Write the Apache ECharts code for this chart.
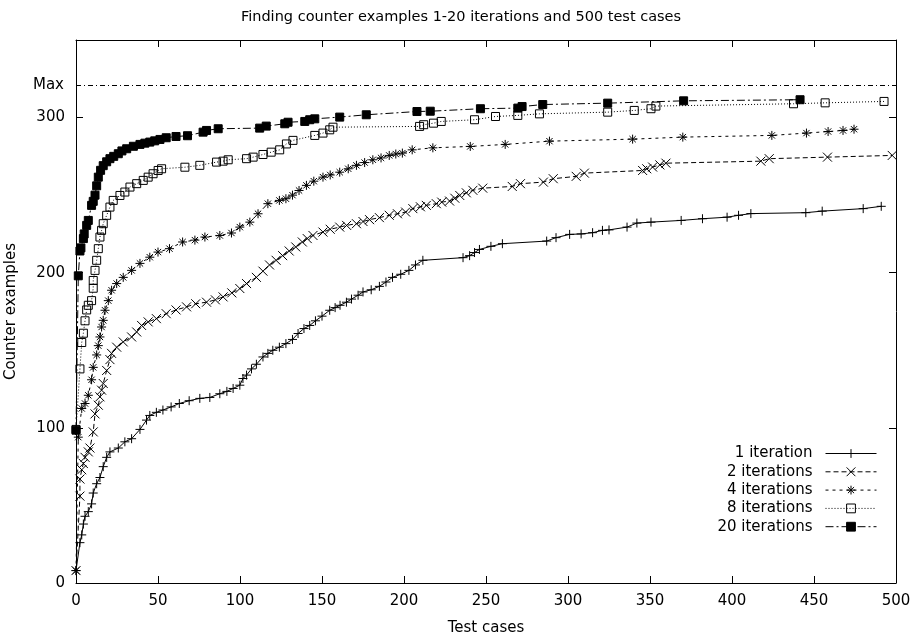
<!DOCTYPE html>
<html>
<head>
<meta charset="utf-8">
<script src="https://cdn.jsdelivr.net/npm/echarts@6/dist/echarts.min.js"></script>
<style>
html,body{margin:0;padding:0;background:#fff;}
#chart{width:922px;height:640px;}
</style>
</head>
<body>
<div id="chart"></div>
<script>
// ---- data (x = test case, y = counter examples found) ----
var titleText = 'Finding counter examples 1-20 iterations and 500 test cases';
var seriesNames = ['1 iteration', '2 iterations', '4 iterations', '8 iterations', '20 iterations'];
var xTicks = [0, 50, 100, 150, 200, 250, 300, 350, 400, 450, 500];
var yTicks = [0, 100, 200, 300];
var maxValue = 321;
var maxLabel = 'Max';

var iter1 = [[0,8],[2.4,26],[3.5,31],[4.5,38],[5.5,43],[7.5,46],[9.5,51],[10.5,58],[12.6,64],[14.6,68],[16.6,75],[18.7,81],[20.7,84.5],[25.8,87],[29.8,91],[33.9,93],[39,99],[43,105],[45,108],[49,110],[53,111.5],[58,113.5],[63,115.7],[69,117.5],[75.5,119],[81.6,119.6],[87.7,122],[92,123.5],[95.8,125.4],[99.9,127.5],[101.8,131.8],[104,134],[107,138],[110,141],[114,145.7],[117,148],[120,150],[124,152],[128,154.3],[132,157],[135.4,160.8],[139,164],[142.5,166],[146,169],[150,172],[154.7,175.8],[158,177.5],[161,179],[164.9,181],[168,183],[172,185.5],[175,187.6],[180,189],[185,191.2],[189,194],[193,197],[198,199],[203,201.5],[207,205],[211.5,208],[236,209.7],[240,211],[243,213],[246,215],[253,217],[260,218.7],[287,220.4],[292.7,222.6],[301,224.7],[308,225],[315,225.8],[321,227.3],[325,227.6],[336,229.4],[342,232],[350.6,232.6],[369,233.7],[382,234.8],[397,235.8],[404,237],[411.5,238.1],[445,238.7],[455,239.7],[480,241.3],[491,242.8]];

var iter2 = [[0,8],[2.4,56],[2.4,67],[3.5,73],[4.5,77],[5.5,81],[7.5,84.5],[8.5,87],[10.5,97.4],[11.6,109],[13.6,114.6],[14.6,120],[15.6,124.3],[16.6,128.6],[18.7,137],[20.7,144],[21.7,148],[24.8,152],[28.8,155.4],[33.9,158.6],[37,161.8],[40,166],[44,168.3],[49,170.4],[55,173.6],[61,176],[67.4,178],[73,180],[79.6,181],[85,182.5],[89.7,184.4],[95,187],[99.9,189.8],[104,193],[110,197],[114,201],[118,205],[122,208],[126,211],[130,214],[134,216.6],[138,219.8],[141,222],[144.5,224],[150.6,226.2],[155,228],[160.8,229.4],[165,230.5],[171,231.6],[175,233],[179,234.2],[185,235.5],[191,237],[196,238],[201,239.1],[205.4,241.3],[210,242.5],[213.6,243.4],[219.7,244.5],[223,245.5],[227.8,246.2],[231,248],[234,249.8],[238,251.5],[242,253.1],[248,254.5],[266,255.6],[271,257.4],[285,258.4],[291,260.6],[305,262.1],[310,264.2],[345.5,265.9],[348,267],[351.6,268.1],[356,269.5],[359.7,270.6],[417.6,271.9],[422.7,273.5],[458.2,274.5],[497.7,275.6]];

var iter4 = [[0,8],[1.4,94],[3.5,112.5],[5.5,115.7],[7.5,121],[9.5,131],[10.5,139],[12.6,147],[13.6,153],[14.6,158.6],[15.6,165],[16.6,169.3],[17.7,175.8],[19.7,182],[21.7,188.7],[24.8,193],[28.8,197],[33.9,201.5],[39,206],[45,210],[50,213.3],[57,215.5],[65,219.8],[72.5,221],[78.6,223],[87.7,224],[94.8,225.6],[99.9,229.4],[106,232.6],[111,238],[117,244.5],[124,246.6],[128,247.7],[132,250],[136,253],[140.5,256.3],[145,259],[150.6,261.6],[155,263],[160.8,264.8],[166,267],[171,269.2],[176,271],[181,272.8],[186,274],[191,275.6],[195,276.5],[199,277.1],[205,279.2],[217.6,280.5],[240.4,281.4],[261.7,282.7],[288.7,284.8],[339.4,286.1],[370,287.4],[424.3,288.5],[445.4,290],[458.6,291],[467.7,291.7],[474.4,292.5]];

var iter8 = [[0,99],[2.4,138],[3.5,155],[4.5,161],[5.5,169],[6.5,176],[7.5,179],[9.5,182],[10.5,190],[10.5,195],[11.6,201.5],[12.6,208],[13.6,215.5],[14.6,223],[15.6,227.3],[16.6,231.6],[18.7,237],[20.7,242.3],[22.7,246.6],[26.8,249.8],[29.8,252],[32.9,255.2],[37,257.4],[41,259.5],[44,261.6],[47,263.8],[50.1,265.9],[52.2,267],[66.4,268],[75.5,269.2],[85.7,271.3],[89.7,271.9],[92.8,272.8],[104,273.5],[108,274.5],[114,276.2],[119,277.7],[124.2,279.2],[128.3,283],[132.3,285.3],[145.6,288.5],[150.6,290],[154.7,292.1],[156.7,293.8],[209.5,294.3],[212,295.4],[218,296.4],[222.7,297.5],[243,298.6],[255.8,300.7],[269.4,301.4],[282.6,302.4],[324.2,303.5],[340.4,304.6],[350.6,305.7],[353.6,307.4],[437.5,308.9],[456.8,309.5],[492.7,310.4]];

var iter20 = [[0,98.5],[1.4,198],[2.4,214],[3,216],[4.5,222],[5,225],[6.5,230.5],[7.5,233.7],[9.5,243.4],[10.5,246],[11.6,250],[12.6,256],[13.6,261.6],[15,266],[16.6,269],[18.7,271.5],[20.7,273.5],[23,275],[25.8,276.7],[28,278.5],[30.9,279.9],[35,281.5],[39,282.7],[42,283.5],[45,284.2],[48,285],[51.2,285.9],[55,287],[61,287.8],[68,288.3],[77.5,290.6],[79.6,291.7],[86.7,292.8],[112,293.2],[116,294.5],[127.3,296],[129.3,297],[139.5,297.5],[142.5,298.6],[145.6,299.2],[160.8,300.3],[177,301.8],[207.9,303.9],[216,304.1],[246.6,305.7],[269.4,306.1],[272,307.1],[284.6,308.4],[324.2,309.3],[370.5,310.8],[441.5,311.5]];

// ---- styling ----
var FONT = 'DejaVu Sans';
var plus = 'path://M5,0L5,10M0,5L10,5';
var cross = 'path://M0,0L10,10M10,0L0,10';
var star = 'path://M5,0L5,10M0,5L10,5M1.5,1.5L8.5,8.5M8.5,1.5L1.5,8.5';

function mk(name, data, symbol, size, dash, fill, extra) {
  var s = {
    name: name, type: 'line', data: data,
    xAxisIndex: 0, yAxisIndex: 0,
    symbol: symbol, symbolSize: size,
    showSymbol: true, showAllSymbol: true,
    lineStyle: {color: '#000', width: 1, type: dash},
    itemStyle: {color: fill, borderColor: '#000', borderWidth: 1},
    emphasis: {disabled: true},
    z: 3
  };
  if (extra) for (var k in extra) s[k] = extra[k];
  return s;
}

var chart = echarts.init(document.getElementById('chart'), null, {renderer: 'canvas'});
function axisBase() {
  return {
    type: 'value',
    axisLine: {show: true, onZero: false, lineStyle: {color: '#000', width: 1}},
    axisTick: {show: true, inside: true, length: 7, lineStyle: {color: '#000', width: 1}},
    splitLine: {show: false}
  };
}
var option = {
  animation: false,
  backgroundColor: '#fff',
  textStyle: {fontFamily: FONT, color: '#000'},
  title: {
    text: titleText, left: 'center', top: 5,
    textStyle: {fontFamily: FONT, fontSize: 14.5, fontWeight: 'normal', color: '#000'}
  },
  grid: {left: 76, right: 26, top: 40, bottom: 57, containLabel: false, outerBoundsMode: 'none'},
  xAxis: [
    Object.assign(axisBase(), {
      position: 'bottom', min: xTicks[0], max: xTicks[xTicks.length - 1], interval: 50,
      name: 'Test cases', nameLocation: 'middle', nameGap: 38,
      nameTextStyle: {fontFamily: FONT, fontSize: 15, color: '#000'},
      axisLabel: {fontFamily: FONT, fontSize: 15, color: '#000', margin: 11}
    }),
    Object.assign(axisBase(), {
      position: 'top', min: xTicks[0], max: xTicks[xTicks.length - 1], interval: 50,
      axisLabel: {show: false}
    })
  ],
  yAxis: [
    Object.assign(axisBase(), {
      position: 'left', min: 0, max: 350, interval: 100,
      name: 'Counter examples', nameLocation: 'middle', nameGap: 57, nameRotate: 90,
      nameTextStyle: {fontFamily: FONT, fontSize: 15, color: '#000'},
      axisLabel: {fontFamily: FONT, fontSize: 15, color: '#000', margin: 11,
        formatter: function (v) { return yTicks.indexOf(v) >= 0 ? String(v) : ''; }}
    }),
    Object.assign(axisBase(), {
      position: 'right', min: 0, max: 350, interval: 100,
      axisLabel: {show: false}
    })
  ],
  legend: {
    orient: 'vertical', right: 40, top: 441, align: 'right',
    itemWidth: 51, itemHeight: 11, itemGap: 3.3,
    lineStyle: {width: 1},
    itemStyle: {borderWidth: 1},
    textStyle: {fontFamily: FONT, fontSize: 15, color: '#000', padding: [0, 8, 0, 0]},
    data: seriesNames
  },
  series: [
    mk(seriesNames[0], iter1, plus, 9, 'solid', '#000'),
    mk(seriesNames[1], iter2, cross, 9, [5, 3], '#000'),
    mk(seriesNames[2], iter4, star, 9, [3, 4], '#000'),
    mk(seriesNames[3], iter8, 'rect', 8, [1, 2], 'rgba(0,0,0,0)'),
    mk(seriesNames[4], iter20, 'rect', 8, [8, 3, 2, 3], '#000', {
      markLine: {
        silent: true, symbol: ['none', 'none'],
        lineStyle: {color: '#000', width: 1, type: [5, 3, 1, 3]},
        label: {show: true, position: 'start', formatter: maxLabel, distance: 12,
          fontFamily: FONT, fontSize: 15, color: '#000'},
        data: [{yAxis: maxValue}]
      }
    })
  ]
};
chart.setOption(option);
</script>
</body>
</html>
